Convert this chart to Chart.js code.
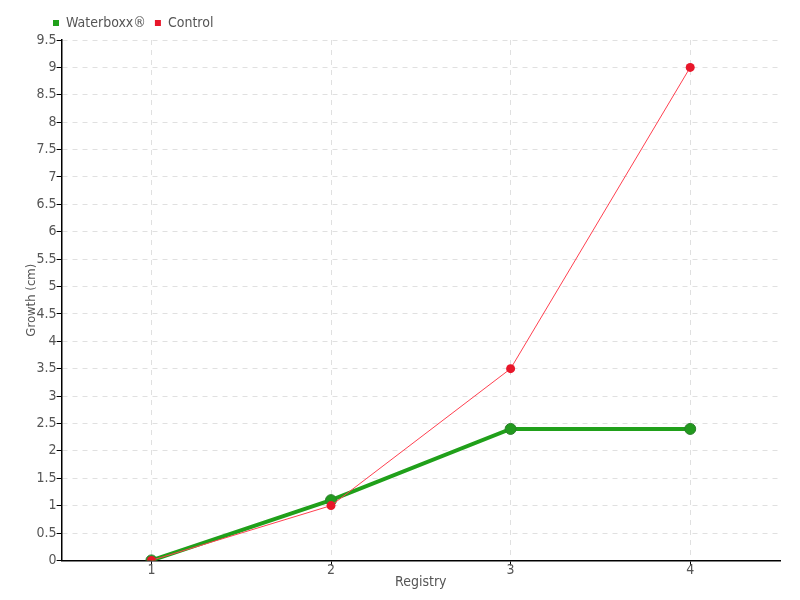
<!DOCTYPE html>
<html><head><meta charset="utf-8">
<script src="https://cdn.jsdelivr.net/npm/chart.js@4"></script>
<style>html,body{margin:0;padding:0;background:#fff}#w{width:800px;height:600px}</style>
</head><body><div id="w"><canvas id="c" width="800" height="600"></canvas></div>
<script>
const categories = ['1','2','3','4'];
const waterboxx = [0, 1.1, 2.4, 2.4];
const control = [0, 1, 3.5, 9];
const FONT = "'DejaVu Sans Condensed', sans-serif";
Chart.defaults.font.family = FONT;
Chart.defaults.font.size = 14;
Chart.defaults.color = '#555';
const shiftLegend = {
  id: 'shiftLegend',
  afterLayout(chart) {
    const lg = chart.legend;
    if (lg) { lg.left += 20; lg.right += 20; }
  }
};
new Chart(document.getElementById('c'), {
  type: 'line',
  data: {
    labels: categories,
    datasets: [
      {label: 'Control', data: control, borderColor: '#ff4050', backgroundColor: '#e8162a',
       borderWidth: 1, pointRadius: 4.5, pointBorderWidth: 0, pointBackgroundColor: '#e8162a', tension: 0},
      {label: 'Waterboxx®', data: waterboxx, borderColor: '#20a01a', backgroundColor: '#20a01a',
       borderWidth: 4, pointRadius: 5.5, pointBorderWidth: 1, pointBorderColor: '#2a7f2a', pointBackgroundColor: '#229a1e', tension: 0}
    ]
  },
  options: {
    responsive: false, animation: false,
    layout: {padding: {left: 24, right: 20, top: 7, bottom: 9}},
    plugins: {
      legend: {reverse: true, position: 'top', align: 'start',
        labels: {boxWidth: 6, boxHeight: 6, padding: 9, font: {size: 14}, color: '#555',
          generateLabels: (chart) => Chart.defaults.plugins.legend.labels.generateLabels(chart).map(it => Object.assign(it, {lineWidth: 0, strokeStyle: 'rgba(0,0,0,0)'}))}},
      tooltip: {enabled: false}
    },
    scales: {
      x: {offset: true,
        grid: {offset: false, color: '#e0e0e0', tickColor: '#000', tickLength: 5},
        border: {color: '#000', width: 1.5, dash: [5,5]},
        ticks: {padding: -3, color: '#555'},
        title: {display: true, text: 'Registry', color: '#555', padding: {top: -2, bottom: 0}}
      },
      y: {min: 0, max: 9.5,
        grid: {color: '#e0e0e0', tickColor: '#000', tickLength: 5},
        border: {color: '#000', width: 1.5, dash: [5,5]},
        ticks: {stepSize: 0.5, padding: 0, color: '#555', callback: v => String(Math.round(v*10)/10)},
        title: {display: true, text: 'Growth (cm)', color: '#555', font: {size: 13}, padding: {top: 0, bottom: -3}}
      }
    }
  },
  plugins: [shiftLegend]
});
</script></body></html>
